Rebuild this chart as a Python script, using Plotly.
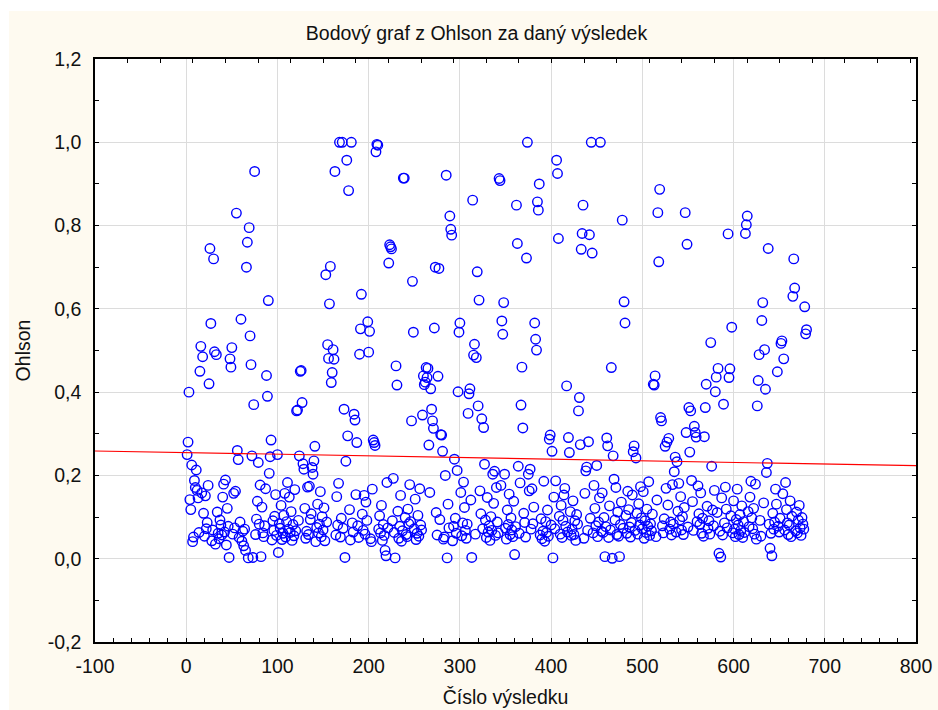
import numpy as np
import plotly.graph_objects as go

# ---- data ----
n_points = 680

marked_idx = [1, 2, 3, 6, 11, 15, 16, 18, 25, 26, 27, 30, 31, 33, 47, 48, 49, 50, 55, 56, 57, 60, 65, 66, 67, 68, 69, 70, 71, 72, 73, 74, 75, 79, 82, 88, 89, 90, 91, 92, 93, 100, 101,
              121, 122, 124, 125, 126, 127, 128, 129, 138, 139, 140, 141, 153, 155, 156, 157, 158, 159, 160, 161, 162, 163, 168, 171, 173, 174, 175, 176, 177, 178, 181, 184, 185, 187, 190, 191, 192, 199, 200, 201,
              205, 206, 207, 208, 209, 210, 218, 219, 222, 223, 224, 225, 229, 230, 231, 238, 239, 247, 248, 249, 259, 260, 261, 262, 263, 264, 265, 266, 268, 269, 270, 271, 272, 273,
              276, 277, 279, 280, 281, 284, 285, 286, 289, 290, 291, 294, 297, 298, 299, 300,
              309, 310, 311, 313, 314, 315, 316, 318, 319, 320, 321, 324, 326, 327,
              336, 338, 343, 344, 346, 347, 348, 349, 360, 362, 363, 364, 367, 368, 369, 373, 374, 375, 377, 382, 383, 384, 385, 386, 387,
              398, 399, 401, 402, 406, 407, 408,
              417, 419, 420, 430, 431, 432, 433, 434, 435, 438, 439, 441, 442, 444, 445, 450, 454, 459,
              461, 462, 466, 467, 468, 475, 478, 480, 481, 490, 491, 493,
              512, 513, 514, 517, 518, 519, 520, 521, 525, 527, 529, 535, 536, 538,
              547, 548, 549, 551, 552, 553, 557, 558, 559, 568, 569, 570, 575, 576, 580, 581, 583, 584, 586, 589,
              594, 595, 596, 598, 613, 614, 615, 626, 627, 628, 631, 632, 634, 635, 636, 637, 638, 640, 642, 648, 652, 653, 655, 665, 666, 667, 678, 679, 680]

marked_val = [0.25, 0.28, 0.40, 0.225, 0.213, 0.45, 0.51, 0.485, 0.42, 0.745, 0.565, 0.72, 0.497, 0.49, 0.003, 0.48, 0.46, 0.507, 0.83, 0.26, 0.238, 0.575, 0.02, 0.70, 0.76, 0.002, 0.795, 0.535, 0.466, 0.247, 0.003, 0.37, 0.93, 0.231, 0.005, 0.44, 0.39, 0.62, 0.205, 0.245, 0.285, 0.25, 0.015,
              0.355, 0.357, 0.247, 0.45, 0.452, 0.375, 0.228, 0.215, 0.219, 0.203, 0.235, 0.27, 0.682, 0.514, 0.481, 0.612, 0.702, 0.423, 0.447, 0.502, 0.479, 0.93, 1.0, 1.0, 0.359, 0.003, 0.234, 0.957, 0.295, 0.884, 1.0, 0.347, 0.333, 0.279, 0.491, 0.552, 0.635, 0.569, 0.496, 0.546,
              0.285, 0.279, 0.272, 0.977, 0.995, 0.993, 0.02, 0.007, 0.71, 0.754, 0.749, 0.744, 0.002, 0.463, 0.417, 0.914, 0.914, 0.331, 0.666, 0.544, 0.345, 0.439, 0.418, 0.424, 0.459, 0.435, 0.457, 0.273, 0.408, 0.359, 0.331, 0.313, 0.554, 0.70,
              0.438, 0.697, 0.298, 0.297, 0.258, 0.20, 0.921, 0.002, 0.823, 0.791, 0.777, 0.239, 0.212, 0.401, 0.544, 0.566,
              0.349, 0.396, 0.408, 0.003, 0.861, 0.489, 0.515, 0.483, 0.689, 0.367, 0.621, 0.336, 0.315, 0.227,
              0.203, 0.21, 0.913, 0.908, 0.571, 0.539, 0.615, 0.203, 0.01, 0.849, 0.757, 0.222, 0.369, 0.46, 0.314, 0.722, 1.0, 0.203, 0.215, 0.566, 0.527, 0.501, 0.857, 0.837, 0.90,
              0.287, 0.297, 0.258, 0.002, 0.957, 0.925, 0.769,
              0.415, 0.291, 0.255, 0.355, 0.387, 0.274, 0.743, 0.781, 0.849, 0.211, 0.22, 0.281, 0.778, 1.0, 0.734, 0.224, 1.0, 0.005,
              0.29, 0.271, 0.459, 0.001, 0.247, 0.005, 0.813, 0.617, 0.566, 0.257, 0.271, 0.242,
              0.419, 0.417, 0.439, 0.831, 0.713, 0.887, 0.339, 0.331, 0.27, 0.28, 0.289, 0.209, 0.244, 0.233,
              0.831, 0.303, 0.755, 0.363, 0.256, 0.355, 0.318, 0.303, 0.292, 0.293, 0.363, 0.419, 0.519, 0.222, 0.401, 0.436, 0.457, 0.013, 0.004, 0.371,
              0.78, 0.435, 0.456, 0.556, 0.781, 0.802, 0.823, 0.367, 0.428, 0.49, 0.572, 0.615, 0.502, 0.407, 0.207, 0.229, 0.745, 0.025, 0.007, 0.449, 0.517, 0.523, 0.48, 0.63, 0.72, 0.65, 0.605, 0.54, 0.55]

low_vals = [
    0.142, 0.118, 0.041, 0.052, 0.188, 0.171, 0.164, 0.146, 0.063, 0.158, 0.109, 0.054, 0.151, 0.072, 0.087, 0.176, 0.043, 0.069, 0.035, 0.112,
    0.061, 0.048, 0.093, 0.081, 0.057, 0.148, 0.179, 0.064, 0.189, 0.033, 0.121, 0.078, 0.059, 0.157, 0.074, 0.162, 0.051, 0.088, 0.042, 0.066,
    0.031, 0.071, 0.058, 0.095, 0.138, 0.083, 0.177, 0.124, 0.062, 0.053, 0.079, 0.168, 0.045, 0.091, 0.068, 0.102, 0.154, 0.056, 0.084, 0.073,
    0.128, 0.046, 0.061, 0.104, 0.157, 0.052, 0.089, 0.183, 0.071, 0.148, 0.063, 0.113, 0.044, 0.082, 0.055, 0.166, 0.067, 0.092, 0.121, 0.049,
    0.066, 0.172, 0.058, 0.174, 0.094, 0.108, 0.041, 0.075, 0.131, 0.062, 0.083, 0.161, 0.053, 0.101, 0.069, 0.122, 0.043, 0.088, 0.057, 0.149,
    0.081, 0.181, 0.052, 0.097, 0.073, 0.118, 0.045, 0.086, 0.064, 0.154, 0.079, 0.051, 0.107, 0.068, 0.152, 0.059, 0.136, 0.092, 0.048, 0.041,
    0.167, 0.071, 0.103, 0.062, 0.128, 0.044, 0.082, 0.056, 0.183, 0.074, 0.091, 0.193, 0.063, 0.114, 0.049, 0.078, 0.152, 0.042, 0.067, 0.099,
    0.058, 0.053, 0.119, 0.084, 0.178, 0.089, 0.072, 0.143, 0.046, 0.061, 0.104, 0.054, 0.168, 0.081, 0.069, 0.159, 0.111, 0.057, 0.094, 0.047,
    0.052, 0.131, 0.074, 0.043, 0.078, 0.097, 0.061, 0.159, 0.055, 0.086, 0.184, 0.123, 0.068, 0.049, 0.083, 0.141, 0.059, 0.163, 0.108, 0.072,
    0.093, 0.051, 0.147, 0.064, 0.079, 0.044, 0.101, 0.068, 0.133, 0.056, 0.171, 0.088, 0.062, 0.176, 0.073, 0.047, 0.117, 0.082, 0.155, 0.058,
    0.098, 0.069, 0.053, 0.138, 0.077, 0.061, 0.182, 0.109, 0.087, 0.052, 0.163, 0.071, 0.168, 0.084, 0.124, 0.057, 0.096, 0.048, 0.066, 0.186,
    0.042, 0.089, 0.063, 0.117, 0.054, 0.081, 0.148, 0.072, 0.187, 0.102, 0.059, 0.128, 0.051, 0.092, 0.153, 0.169, 0.078, 0.064, 0.113, 0.056,
    0.071, 0.139, 0.058, 0.091, 0.044, 0.106, 0.083, 0.049, 0.157, 0.068, 0.097, 0.062, 0.176, 0.121, 0.079, 0.053, 0.088, 0.146, 0.066, 0.158,
    0.063, 0.099, 0.077, 0.051, 0.127, 0.069, 0.191, 0.093, 0.171, 0.058, 0.112, 0.054, 0.082, 0.136, 0.073, 0.104, 0.061, 0.162, 0.118, 0.076,
    0.052, 0.087, 0.153, 0.068, 0.109, 0.059, 0.132, 0.081, 0.173, 0.098, 0.072, 0.161, 0.049, 0.091, 0.063, 0.119, 0.078, 0.185, 0.056, 0.084,
    0.067, 0.107, 0.053, 0.141, 0.079, 0.062, 0.096, 0.169, 0.129, 0.071, 0.088, 0.057, 0.178, 0.083, 0.064, 0.114, 0.181, 0.093, 0.149, 0.069,
    0.101, 0.058, 0.123, 0.076, 0.188, 0.137, 0.068, 0.089, 0.175, 0.108, 0.082, 0.158, 0.061, 0.097, 0.054, 0.126, 0.073, 0.091, 0.059, 0.117,
    0.079, 0.164, 0.111, 0.066, 0.146, 0.057, 0.086, 0.172, 0.119, 0.074, 0.103, 0.062, 0.139, 0.071, 0.053, 0.094, 0.167, 0.081, 0.058, 0.106,
    0.068, 0.127, 0.051, 0.089, 0.063, 0.113, 0.077, 0.148, 0.186, 0.098, 0.072, 0.121, 0.059, 0.179, 0.047, 0.092, 0.054, 0.134, 0.083, 0.061,
    0.109, 0.071, 0.088, 0.167, 0.131, 0.078, 0.064, 0.097, 0.156, 0.069, 0.183, 0.118, 0.086, 0.058, 0.081, 0.139, 0.053, 0.102, 0.067, 0.112,
    0.062, 0.093, 0.128, 0.074, 0.056, 0.099, 0.083, 0.071,
]

x_ticks = [-100, 0, 100, 200, 300, 400, 500, 600, 700, 800]
x_tick_labels = ["-100", "0", "100", "200", "300", "400", "500", "600", "700", "800"]
y_ticks = [-0.2, 0.0, 0.2, 0.4, 0.6, 0.8, 1.0, 1.2]
y_tick_labels = ["-0,2", "0,0", "0,2", "0,4", "0,6", "0,8", "1,0", "1,2"]

title_text = "Bodový graf z Ohlson za daný výsledek"
x_title = "Číslo výsledku"
y_title = "Ohlson"

# ---- assemble series ----
marked = dict(zip(marked_idx, marked_val))
low_iter = iter(low_vals)
xs, ys = [], []
for i in range(1, n_points + 1):
    if i in marked:
        v = marked[i]
    else:
        v = next(low_iter, None)
        if v is None:
            continue
    xs.append(i)
    ys.append(v)

xs = np.array(xs, dtype=float)
ys = np.array(ys, dtype=float)
slope, intercept = np.polyfit(xs, ys, 1)
x_range = [x_ticks[0], x_ticks[-1]]
line_x = np.array(x_range, dtype=float)
line_y = intercept + slope * line_x

FONT = "Liberation Sans, Arial, sans-serif"
CREAM = "#FEFAF0"
TXT = "#111111"

fig = go.Figure()
fig.add_trace(go.Scatter(
    x=xs, y=ys, mode="markers",
    marker=dict(symbol="circle-open", size=9.5, color="#0000FF", line=dict(width=1.4, color="#0000FF")),
    showlegend=False, hoverinfo="x+y", cliponaxis=True,
))
fig.add_trace(go.Scatter(
    x=line_x, y=line_y, mode="lines",
    line=dict(color="#FF0000", width=1.1),
    showlegend=False, hoverinfo="skip",
))
# helper trace for the top tick axis
fig.add_trace(go.Scatter(x=[0], y=[0], xaxis="x2", mode="markers",
                         marker=dict(opacity=0), showlegend=False, hoverinfo="skip"))

W, H = 938, 710
ml, mr, mt, mb = 95, 22, 59, 68
pw, ph = W - ml - mr, H - mt - mb

def px2paper_x(px):
    return (px - ml) / pw

def px2paper_y(py):
    return (H - mb - py) / ph

fig.update_layout(
    width=W, height=H,
    margin=dict(l=ml, r=mr, t=mt, b=mb, pad=0, autoexpand=False),
    paper_bgcolor=CREAM,
    plot_bgcolor="white",
    font=dict(family=FONT, size=19.5, color=TXT),
    title=dict(text=title_text, x=0.508, xref="container", xanchor="center",
               y=1 - 33 / H, yref="container", yanchor="middle",
               font=dict(family=FONT, size=19.5, color=TXT), automargin=False),
    xaxis=dict(
        range=x_range, tickmode="array", tickvals=x_ticks, ticktext=x_tick_labels,
        showgrid=True, gridcolor="#DCDCDC", gridwidth=1, zeroline=False,
        showline=True, linecolor="black", linewidth=1.5, mirror=True,
        ticks="inside", ticklen=4, tickcolor="black", tickwidth=1,
        minor=dict(dtick=20, tick0=0, ticks="inside", ticklen=4, tickcolor="black", showgrid=False),
        title=dict(text=x_title, standoff=14, font=dict(size=19.5)),
        tickfont=dict(size=19.5), ticklabelstandoff=6, automargin=False,
    ),
    xaxis2=dict(
        overlaying="x", side="top", range=[0, pw / 32.6], dtick=1, tick0=0,
        showticklabels=False, showgrid=False, zeroline=False, showline=False,
        ticks="inside", ticklen=4, tickcolor="black", tickwidth=1, automargin=False,
    ),
    yaxis=dict(
        range=[y_ticks[0], y_ticks[-1]], tickmode="array", tickvals=y_ticks, ticktext=y_tick_labels,
        showgrid=True, gridcolor="#DCDCDC", gridwidth=1, zeroline=False,
        showline=True, linecolor="black", linewidth=1.5, mirror="ticks",
        ticks="inside", ticklen=4, tickcolor="black", tickwidth=1,
        minor=dict(dtick=0.1, tick0=0, ticks="inside", ticklen=4, tickcolor="black", showgrid=False),
        title=dict(text=y_title, standoff=12, font=dict(size=19.5)),
        tickfont=dict(size=19.5), ticklabelstandoff=8, automargin=False,
    ),
    shapes=[
        dict(type="rect", xref="paper", yref="paper", layer="below",
             x0=px2paper_x(0), x1=px2paper_x(9), y0=px2paper_y(H), y1=px2paper_y(0),
             fillcolor="white", line=dict(width=0)),
        dict(type="rect", xref="paper", yref="paper", layer="below",
             x0=px2paper_x(0), x1=px2paper_x(W), y0=px2paper_y(11), y1=px2paper_y(0),
             fillcolor="white", line=dict(width=0)),
    ],
)

fig.write_html("out.html")
